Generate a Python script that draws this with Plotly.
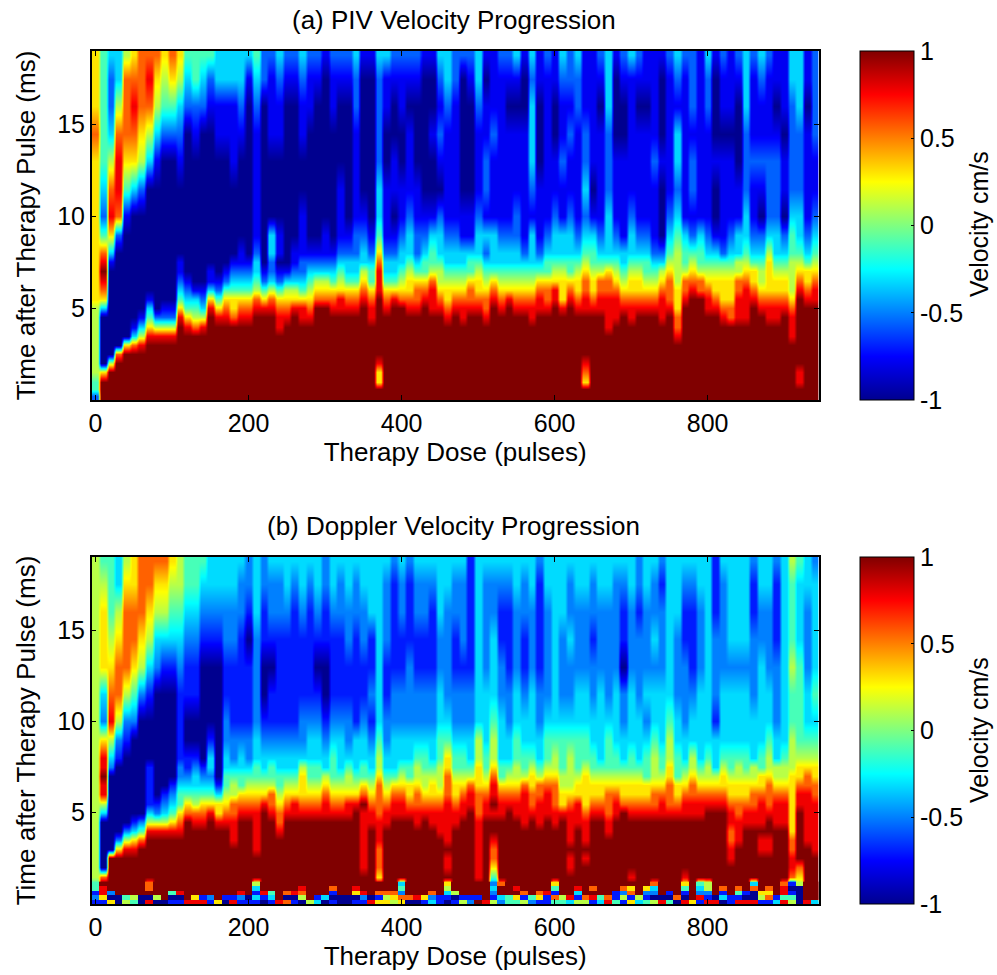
import plotly.graph_objects as go

W, H = 997, 975
PIV_LEVELS = [-1, -0.78, -0.56, -0.33, -0.11, 0.11, 0.3, 0.56, 0.78, 1]
DOP_LEVELS = [-1, -0.7, -0.5, -0.32, -0.11, 0.11, 0.3, 0.56, 0.78, 1]
DOSE = [i * 10 for i in range(95)]
PIV_TIME = [18.8,17.5,16,14.5,13,11.5,10, 9,8,7.5,7,6.5,6, 5.5,5,4.5,4,3.5,3, 2.5,2,1.5,1,0.6,0.2]
DOP_TIME = [18.8,17.5,16,14.5,13,11.5,10, 9,8,7.5,7,6.5,6, 5.5,5,4.5,4,3.5,3, 2.5,2,1.5, 1.1,0.85,0.6,0.35,0.1]

# One string per dose column; each digit is a level, from top row to bottom row.
PIV = [
"6667666 666666 655555 555442","4444432 478987 630000 006999","3223578 631000 000000 059999","3357887 200000 000000 799999",
"5777641 000000 000006 999999","6787630 000000 000137 999999","7776520 000000 001358 999999","7875300 000000 134689 999999",
"7653100 000000 002589 999999","6542000 000000 012589 999999","7642000 000000 012589 999999","6532100 001123 468999 999999",
"4320000 000012 346899 999999","4421000 000001 345799 999999","4320000 000001 235899 999999","4210000 000113 689999 999999",
"3311000 000012 468999 999999","3311000 000124 678999 999999","3311100 001234 667999 999999","3321000 011234 678999 999999",
"3100000 001234 678999 999999","4321111 123345 789999 999999","2200000 000124 689999 999999","2111000 332235 789999 999999",
"3211000 110124 678899 999999","2100000 000135 678999 999999","2100000 011235 689999 999999","3211001 112234 688999 999999",
"2110000 012345 678999 999999","2100000 012356 799999 999999","1000000 112356 799999 999999","2110000 012346 789999 999999",
"2100011 123456 889999 999999","2100000 123346 789999 999999","3221111 223346 789999 999999","1000001 233567 899999 999999",
"1000000 123446 788999 999999","3222233 467888 999999 986699","3110011 123346 789999 999999","2100110 123346 899999 999999",
"2110011 233456 799999 999999","2101112 334566 789999 999999","2100011 223467 789999 999999","1000001 234467 899999 999999",
"1001001 344578 889999 999999","3212102 334556 789999 999999","3321111 233456 678999 999999","2211111 233456 789999 999999",
"2000001 133456 788999 999999","2100001 134467 789999 999999","3321112 334566 789999 999999","1011221 323456 778999 999999",
"1112111 333467 899999 999999","2111111 233456 789999 999999","2101111 233456 899999 999999","3101112 233456 789999 999999",
"1001111 123456 789999 999999","3233321 333456 788999 999999","1100011 123467 889999 999999","2111111 234467 789999 999999",
"1100112 334568 899999 999999","3211211 334566 689999 999999","2212112 334467 899999 999999","3221111 234566 789999 999999",
"1112232 345677 889999 987699","1111101 344566 789999 999999","2101111 234577 889999 999999","3332223 334677 888899 999999",
"1000111 234567 888999 999999","2100111 133456 789999 999999","3111112 334566 788999 999999","2101111 234566 789999 999999",
"1101111 234456 789999 999999","1111211 123456 789999 999999","1000100 023567 888999 999999","2111112 345677 789999 999999",
"3213323 455556 667789 999999","2111111 344577 899999 999999","2221221 245678 999999 999999","1111111 344577 999999 999999",
"3221111 234567 889999 999999","1000100 134566 789999 999999","2110111 124566 678999 999999","1110111 234566 677999 999999",
"2100011 335577 888999 999999","3332223 345678 888999 999999","2111211 234667 899999 999999","3211210 234556 789999 999999",
"2111222 356666 788999 999999","1101222 334566 788999 999999","1110110 234566 789999 999999","3322223 445555 678889 999999",
"3332223 345678 999999 998899","1101111 234667 899999 999999","2222112 345678 899999 999999",
]

DOPPLER = [
"5555555 555555 555555 555 44121","4566632 688988 530000 007 98861","4445678 532000 000000 999 99206","3356775 210000 000026 999 99900",
"5677752 100000 000258 999 99945","6677642 000000 001368 999 99954","7776520 000000 002479 999 99900","7765310 001111 135899 999 77908",
"7653200 000000 125899 999 99950","7653100 000001 235899 999 99990","6543100 000012 346899 999 99401","5543211 112234 467899 999 99801",
"4432110 011234 679999 999 99998","4432110 012334 578999 999 99968","4321000 001234 678999 999 99918","3321000 133234 689999 999 99921",
"3321000 000013 668999 999 99996","3322112 233445 678999 999 99910","3322111 223455 778889 999 99918","3221111 233446 789999 999 99821",
"2210111 223456 789999 999 99901","3332222 334456 788888 999 53131","2211001 233456 899999 999 99810","3221011 234457 789999 999 99431",
"3221111 233445 677899 999 99998","3321111 233456 789999 999 99707","3211111 233456 889999 999 99801","3321112 235666 789999 999 98750",
"3211112 334456 789999 999 99995","3321012 334456 789999 999 99913","2211001 233567 889999 999 99930","3321112 344456 789999 999 97101",
"3221112 333456 789999 999 99900","3322112 234556 889999 999 99900","3221111 333456 899999 999 98601","3322112 334467 988888 889 99821",
"3331121 233456 788999 999 99908","3333333 455677 778887 776 99716","3222112 233456 788999 999 99756","2111122 333467 889999 999 99765",
"3221122 334567 889999 999 34276","2111222 334466 789999 999 99970","3221122 345567 788999 999 99980","3221122 344556 789999 999 99961",
"3211122 334566 788999 999 99723","3332233 445556 788899 999 99911","3322223 466777 888889 889 65310","3221122 344566 788999 999 99501",
"3222122 344567 889999 999 99915","1111122 334578 899999 999 99912","3333333 556667 778888 888 99919","3222233 344567 889999 999 99998",
"3223334 556788 989987 764 23215","3211223 334467 889999 999 79932","3211122 334567 899999 999 99944","3322233 445567 889999 999 98964",
"3221123 344578 888999 999 99715","3322233 345667 789999 999 99942","2111122 334577 888999 999 99761","3322223 445678 889999 999 99811",
"3333333 455677 788999 999 64174","3332223 444556 689999 999 99954","3223223 455556 788889 889 99983","3322233 444566 888999 999 98315",
"3322233 445666 678889 899 99975","3221223 344566 789999 999 97981","3322233 334566 789999 999 99943","3322223 444567 778899 999 99978",
"3222233 344567 889999 999 99114","3211022 334566 799999 999 97251","3322233 344566 789999 998 96716","2212223 334566 789999 999 99953",
"3322232 344466 789999 999 96214","3223233 455567 789999 999 73205","2122233 344567 889999 999 99908","3333334 556677 789999 999 99104",
"3332223 344466 789999 999 99970","3211222 334567 889999 998 64108","3211123 355677 889999 999 99996","3322233 334567 889999 999 43281",
"3333333 345567 899999 999 55218","1112221 333567 899999 999 99908","3222233 345667 899999 999 97130","3333233 344566 788778 899 99911",
"3333233 345566 778889 999 97418","3333233 344566 788999 999 99108","2112223 335567 788999 999 37008","3322333 344667 888988 999 99651",
"3322233 455677 789988 999 97671","2111222 335567 888999 999 99913","3333333 345567 888999 999 78848","5444544 555666 666677 887 10145",
"4333444 456678 899999 976 50000","3322233 456778 888889 999 99998","2333343 456677 888888 999 99993",
]

JET = [[0, "#00008f"], [0.125, "#0000ff"], [0.375, "#00ffff"], [0.625, "#ffff00"], [0.875, "#ff0000"], [1, "#800000"]]
FONT = "Liberation Sans"
TICK_SIZE = 25
TITLE_SIZE = 26


def columns_of(columns, levels, n_rows):
    cols = [[levels[int(c)] for c in s.replace(" ", "")] for s in columns]
    for k, c in enumerate(cols):
        assert len(c) == n_rows, (k, len(c))
    return cols


def flat_columns(cols, rows):
    # each dose column is given a left and a right sample so that it stays a flat stripe when smoothed vertically
    return [[v for c in cols for v in (c[r], c[r])] for r in rows]


X_PAIRS = [d + o for d in DOSE for o in (-3, 3)]


def bar(top, bottom):
    return dict(
        x=860 / W, xanchor="left", y=1 - bottom / H, yanchor="bottom", len=(bottom - top) / H, lenmode="fraction",
        thickness=54, thicknessmode="pixels", xpad=0, ypad=0, outlinecolor="black", outlinewidth=1,
        ticks="inside", ticklen=3, tickcolor="black", tickvals=[-1, -0.5, 0, 0.5, 1], ticktext=["-1", "-0.5", "0", "0.5", "1"],
        tickfont=dict(family=FONT, size=TICK_SIZE, color="black"),
    )


piv_cols = columns_of(PIV, PIV_LEVELS, len(PIV_TIME))
dop_cols = columns_of(DOPPLER, DOP_LEVELS, len(DOP_TIME))
n_main = len(DOP_TIME) - 5

fig = go.Figure()
fig.add_trace(go.Heatmap(x=X_PAIRS, y=PIV_TIME, z=flat_columns(piv_cols, range(len(PIV_TIME))), zmin=-1, zmax=1, colorscale=JET,
                         zsmooth="best", colorbar=bar(51, 400), xaxis="x", yaxis="y"))
fig.add_trace(go.Heatmap(x=X_PAIRS, y=DOP_TIME, z=flat_columns(dop_cols, range(len(DOP_TIME))), zmin=-1, zmax=1, colorscale=JET,
                         zsmooth="best", colorbar=bar(557, 904), xaxis="x2", yaxis="y2"))
# The noisy strip along the bottom of panel (b) has crisp cells.
fig.add_trace(go.Heatmap(x=DOSE, y=DOP_TIME[n_main:], z=[[c[r] for c in dop_cols] for r in range(n_main, len(DOP_TIME))],
                         zmin=-1, zmax=1, colorscale=JET, showscale=False, xaxis="x2", yaxis="y2"))

axis_common = dict(showline=True, linecolor="black", linewidth=1.5, mirror="allticks", ticks="inside", ticklen=5,
                   tickcolor="black", showgrid=False, zeroline=False, tickfont=dict(family=FONT, size=TICK_SIZE, color="black"))
xdom = [89 / W, 818 / W]
x_kw = dict(axis_common, range=[-5, 945], tickvals=[0, 200, 400, 600, 800], domain=xdom)
y_kw = dict(axis_common, range=[0, 19], tickvals=[5, 10, 15])

title_font = dict(family=FONT, size=TITLE_SIZE, color="black")


def note(text, px, py, angle=0, size=TITLE_SIZE):
    return dict(text=text, x=px / W, y=1 - py / H, xref="paper", yref="paper", xanchor="center", yanchor="middle",
                showarrow=False, font=dict(family=FONT, size=size, color="black"), textangle=angle)


fig.update_layout(
    width=W, height=H, margin=dict(l=0, r=0, t=0, b=0), paper_bgcolor="white", plot_bgcolor="white",
    xaxis=dict(x_kw, anchor="y", title=dict(text="Therapy Dose (pulses)", font=title_font, standoff=4)),
    yaxis=dict(y_kw, anchor="x", domain=[1 - 400 / H, 1 - 51 / H], title=dict(text="Time after Therapy Pulse (ms)", font=title_font, standoff=14)),
    xaxis2=dict(x_kw, anchor="y2", title=dict(text="Therapy Dose (pulses)", font=title_font, standoff=4)),
    yaxis2=dict(y_kw, anchor="x2", domain=[1 - 904 / H, 1 - 557 / H], title=dict(text="Time after Therapy Pulse (ms)", font=title_font, standoff=14)),
    annotations=[
        note("(a) PIV Velocity Progression", 452, 20),
        note("(b) Doppler Velocity Progression", 452, 526),
        note("Velocity cm/s", 979, 224, -90, 25),
        note("Velocity cm/s", 979, 730, -90, 25),
    ],
)
fig.write_html("out.html", post_script="document.body.style.margin='0';", config={"displayModeBar": False})
